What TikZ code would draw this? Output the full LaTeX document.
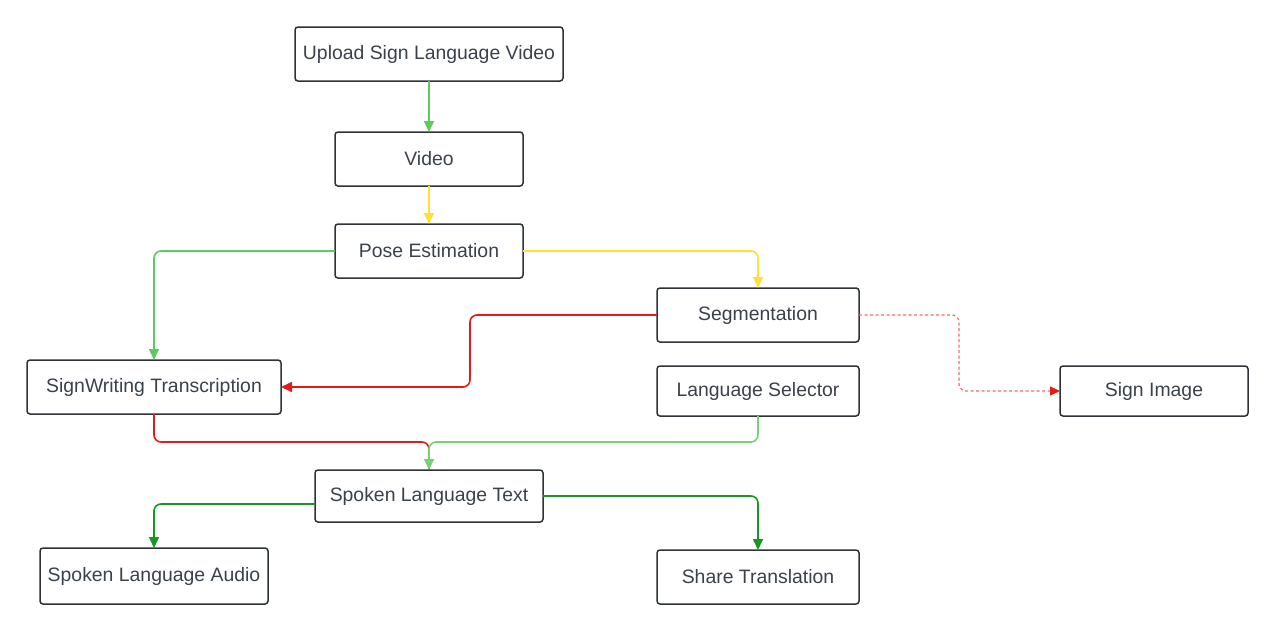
\documentclass[tikz,border=0pt]{standalone}
\usepackage{fontspec}
\setmainfont{Liberation Sans}
\usetikzlibrary{arrows.meta}
\definecolor{boxline}{HTML}{2E3338}
\definecolor{txt}{HTML}{3A414A}
\definecolor{cgreen}{HTML}{5CCB5F}
\definecolor{clgreen}{HTML}{72D472}
\definecolor{cyellow}{HTML}{FFE135}
\definecolor{cred}{HTML}{E81919}
\definecolor{cdash}{HTML}{F86868}
\definecolor{cdgreen}{HTML}{139A22}
\tikzset{
  x=1pt,y=-1pt,
  box/.style={draw=boxline,line width=1.5pt,rounded corners=3pt,inner sep=0pt,outer sep=0pt,
    text=txt,font=\fontsize{19.4}{22}\selectfont},
  conn/.style={line width=1.6pt,rounded corners=7pt,
    -{Triangle[length=11pt,width=10pt]}},
}
\begin{document}
\begin{tikzpicture}
\useasboundingbox (0,0) rectangle (1275,632);
\node[box,minimum width=268pt,minimum height=54pt] (up) at (429,54) {Upload Sign Language Video};
\node[box,minimum width=188pt,minimum height=54pt] (vid) at (429,159) {Video};
\node[box,minimum width=188pt,minimum height=54pt] (pose) at (429,251) {Pose Estimation};
\node[box,minimum width=202pt,minimum height=54pt] (seg) at (758,315) {Segmentation};
\node[box,minimum width=254pt,minimum height=54pt] (sw) at (154,387) {SignWriting Transcription};
\node[box,minimum width=202pt,minimum height=50pt] (lang) at (758,391) {Language Selector};
\node[box,minimum width=188pt,minimum height=50pt] (img) at (1154,391) {Sign Image};
\node[box,minimum width=228pt,minimum height=52pt] (slt) at (429,496) {Spoken Language Text};
\node[box,minimum width=228pt,minimum height=56pt] (audio) at (154,576) {Spoken Language Audio};
\node[box,minimum width=202pt,minimum height=54pt] (share) at (758,577) {Share Translation};

\draw[conn,draw=cgreen] (up.south) -- (vid.north);
\draw[conn,draw=cyellow] (vid.south) -- (pose.north);
\draw[conn,draw=cgreen] (pose.west) -| (sw.north);
\draw[conn,draw=cyellow] (pose.east) -| (seg.north);
\draw[conn,draw=cred] (seg.west) -- (470,315) -- (470,387) -- (sw.east);
\draw[conn,draw=cdash,line width=1.2pt,dash pattern=on 3pt off 2.5pt,
  -{Triangle[length=10pt,width=9pt,color=cred,fill=cred]}]
  (seg.east) -- (959,315) -- (959,391) -- (img.west);
\draw[conn,draw=cred,-] (sw.south) -- (154,442) -- (429,442) -- (slt.north);
\draw[conn,draw=clgreen] (lang.south) -- (758,442) -- (429,442) -- (slt.north);
\draw[conn,draw=cdgreen] (slt.west |- 0,504) -| (audio.north);
\draw[conn,draw=cdgreen] (slt.east) -| (share.north);
\end{tikzpicture}
\end{document}
